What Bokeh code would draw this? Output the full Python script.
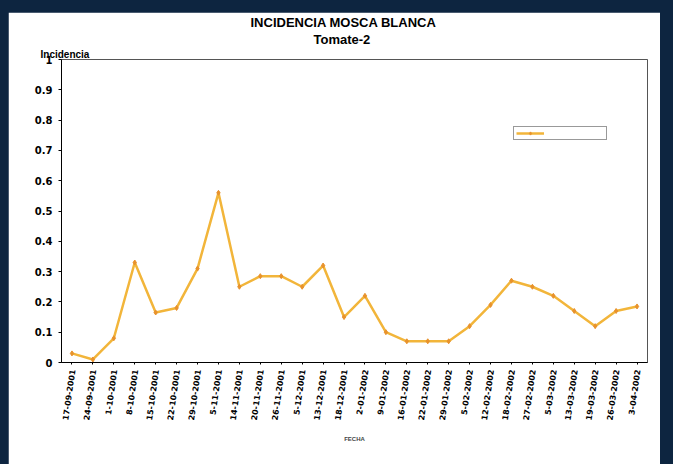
import math
from bokeh.plotting import figure
from bokeh.models import FactorRange, Range1d, Title, Legend, LegendItem, NumeralTickFormatter, FixedTicker
from bokeh.layouts import column
from bokeh.embed import file_html
from bokeh.resources import INLINE

fechas = ["17-09-2001", "24-09-2001", "1-10-2001", "8-10-2001", "15-10-2001",
          "22-10-2001", "29-10-2001", "5-11-2001", "14-11-2001", "20-11-2001",
          "26-11-2001", "5-12-2001", "13-12-2001", "18-12-2001", "2-01-2002",
          "9-01-2002", "16-01-2002", "22-01-2002", "29-01-2002", "5-02-2002",
          "12-02-2002", "18-02-2002", "27-02-2002", "5-03-2002", "13-03-2002",
          "19-03-2002", "26-03-2002", "3-04-2002"]
incidencia = [0.03, 0.01, 0.08, 0.33, 0.165, 0.18, 0.31, 0.56, 0.25, 0.285,
              0.285, 0.25, 0.32, 0.15, 0.22, 0.10, 0.07, 0.07, 0.07, 0.12,
              0.19, 0.27, 0.25, 0.22, 0.17, 0.12, 0.17, 0.185]
y_ticks = [0, 0.1, 0.2, 0.3, 0.4, 0.5, 0.6, 0.7, 0.8, 0.9, 1.0]
titulo = "INCIDENCIA MOSCA BLANCA"
subtitulo = "Tomate-2"
y_label = "Incidencia"
x_label = "FECHA"

FONT = "Liberation Sans"
TICKFONT = "DejaVu Sans"

p = figure(width=652, height=452,
           x_range=FactorRange(*fechas, range_padding=0),
           y_range=Range1d(0, 1),
           output_backend="svg", toolbar_location=None,
           min_border_left=53, min_border_right=13,
           min_border_top=46, min_border_bottom=102,
           background_fill_color="white", border_fill_color="white",
           margin=(12, 13, 0, 8))
p.title = None

line = p.line(fechas, incidencia, line_color="#F2B53A", line_width=2.5)
pts = p.scatter(fechas, incidencia, marker="diamond", size=5,
                fill_color="#E8922C", line_color="#E8922C")

p.xgrid.grid_line_color = None
p.ygrid.grid_line_color = None
p.outline_line_color = "#555555"

p.yaxis.ticker = FixedTicker(ticks=y_ticks)
p.yaxis.formatter = NumeralTickFormatter(format="0.[0]")
p.yaxis.major_label_text_font = TICKFONT
p.yaxis.major_label_text_font_style = "bold"
p.yaxis.major_label_text_font_size = "10px"
p.yaxis.major_label_text_color = "black"
p.yaxis.major_label_standoff = 6
p.yaxis.axis_line_color = "black"
p.yaxis.major_tick_out = 3
p.yaxis.major_tick_in = 0
p.yaxis.minor_tick_line_color = None

p.xaxis.major_label_orientation = math.radians(82)
p.xaxis.major_label_text_font = TICKFONT
p.xaxis.major_label_text_font_style = "bold"
p.xaxis.major_label_text_font_size = "8px"
p.xaxis.major_label_text_color = "black"
p.xaxis.axis_line_color = "black"
p.xaxis.major_tick_out = 2
p.xaxis.major_tick_in = 0
p.xaxis.axis_label = x_label
p.xaxis.axis_label_text_font = FONT
p.xaxis.axis_label_text_font_size = "6px"
p.xaxis.axis_label_text_font_style = "bold"
p.xaxis.axis_label_standoff = 12

# titles stacked above the frame: first added is closest to the frame
p.add_layout(Title(text=y_label, align="left", offset=-21, standoff=0,
                   text_font=FONT, text_font_style="bold", text_font_size="10px",
                   text_line_height=1.0, text_color="black"), "above")
p.add_layout(Title(text=subtitulo, align="left", offset=252, standoff=0,
                   text_font=FONT, text_font_style="bold", text_font_size="13px",
                   text_line_height=0.55, text_color="black"), "above")
p.add_layout(Title(text=titulo, align="left", offset=189, standoff=0,
                   text_font=FONT, text_font_style="bold", text_font_size="13px",
                   text_line_height=0.8, text_color="black"), "above")

legend = Legend(items=[LegendItem(label=" ", renderers=[line, pts])],
                location=(452, 222), glyph_width=28, glyph_height=8,
                label_width=55, label_height=8, label_text_font_size="6px",
                padding=2, spacing=0, margin=0,
                border_line_color="#333333", background_fill_color="white")
p.add_layout(legend)

page = column(p, width=673, height=464,
              styles={"background-color": "#0d2540"})

open("out.html", "w").write(file_html(page, INLINE))
